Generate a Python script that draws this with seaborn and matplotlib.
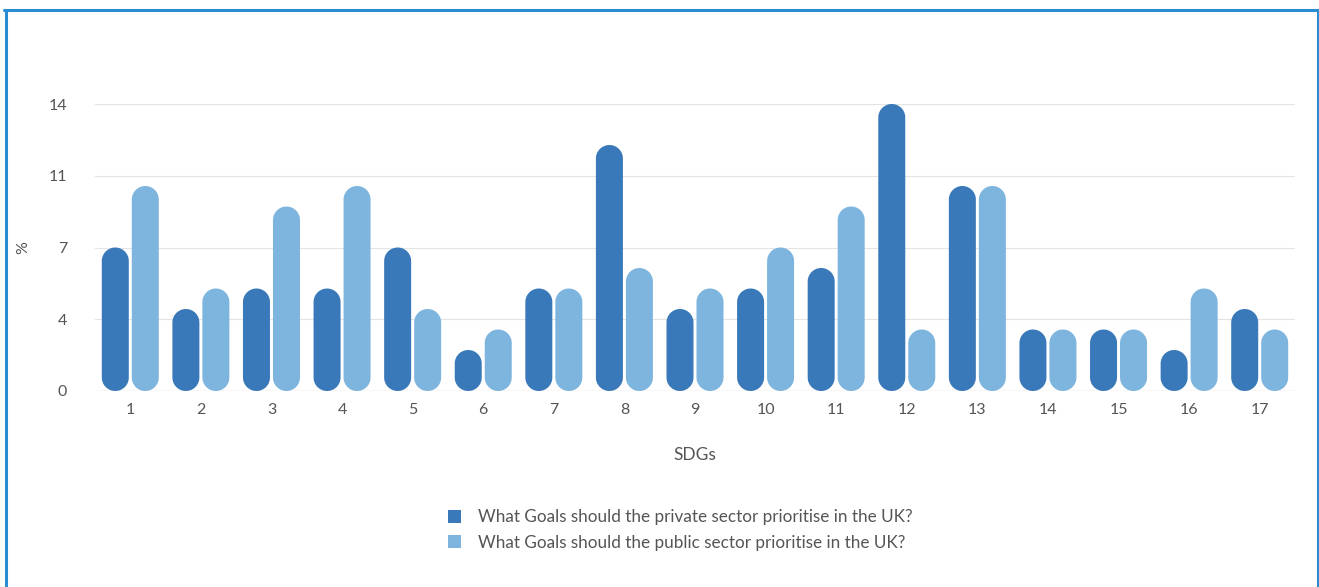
import numpy as np
import pandas as pd
import seaborn as sns
import matplotlib
matplotlib.use("Agg")
import matplotlib.pyplot as plt
from matplotlib.patches import Polygon, Patch
from matplotlib.lines import Line2D

# ---- data ----
sdgs = [str(i) for i in range(1, 18)]
private = [7, 4, 5, 5, 7, 2, 5, 12, 4, 5, 6, 14, 10, 3, 3, 2, 4]
public = [10, 5, 9, 10, 4, 3, 5, 6, 5, 7, 9, 3, 10, 3, 3, 5, 3]
series_names = ["What Goals should the private sector prioritise in the UK?",
                "What Goals should the public sector prioritise in the UK?"]
ytick_vals = [0, 3.5, 7, 10.5, 14]
ytick_labels = ["0", "4", "7", "11", "14"]
colors = ["#3979b9", "#7db5de"]

df = pd.DataFrame({
    "SDG": sdgs * 2,
    "value": private + public,
    "series": [series_names[0]] * len(sdgs) + [series_names[1]] * len(sdgs),
})

sns.set_style("white")
plt.rcParams["font.family"] = ["Lato", "DejaVu Sans"]
text_color = "#555555"

W, H = 1319, 587
fig = plt.figure(figsize=(W / 100, H / 100), dpi=100)
ax_l, ax_r, ax_b, ax_t = 95, 1295, 391, 104
ax = fig.add_axes([ax_l / W, 1 - ax_b / H, (ax_r - ax_l) / W, (ax_b - ax_t) / H])

sns.barplot(data=df, x="SDG", y="value", hue="series", palette=colors,
            width=0.85, gap=0.1, ax=ax, legend=False, saturation=1)

ax.set_xlim(-0.5, 16.5)
ax.set_ylim(0, 14)

# convert bars to rounded pills (shape computed from each bar's own geometry)
xupp = 17.0 / (ax_r - ax_l)
yupp = 14.0 / (ax_b - ax_t)
aspect = yupp / xupp
t_top = np.linspace(0, np.pi, 40)
t_bot = np.linspace(np.pi, 2 * np.pi, 40)
for p in list(ax.patches):
    x, y = p.get_x(), p.get_y()
    w, h = p.get_width(), p.get_height()
    fc = p.get_facecolor()
    p.remove()
    if h <= 0:
        continue
    rx = w / 2
    ry = rx * aspect
    xc = x + rx
    top_c = y + h - ry
    bot_c = y + ry
    verts = np.vstack([
        np.column_stack([xc + rx * np.cos(t_top), top_c + ry * np.sin(t_top)]),
        np.column_stack([xc + rx * np.cos(t_bot), bot_c + ry * np.sin(t_bot)]),
    ])
    ax.add_patch(Polygon(verts, closed=True, facecolor=fc, edgecolor="none",
                         clip_on=False, zorder=3))

ax.set_yticks(ytick_vals, ytick_labels)
ax.grid(axis="y", color="#e4e4e4", linewidth=0.8, zorder=0)
ax.grid(axis="x", visible=False)
for s in ax.spines.values():
    s.set_visible(False)
ax.axhline(0, color="#e9e1d6", linewidth=1.0, zorder=1)
ax.tick_params(axis="both", length=0, labelsize=11.5, labelcolor=text_color)
ax.tick_params(axis="y", pad=20)
ax.tick_params(axis="x", pad=9)

ax.set_xlabel("SDGs", fontsize=12.5, color=text_color)
ax.xaxis.set_label_coords(0.5, (ax_b - 447) / (ax_b - ax_t))
ax.set_ylabel("%", fontsize=11.5, color=text_color)
ax.yaxis.set_label_coords((30 - ax_l) / (ax_r - ax_l), 0.5)

handles = [Patch(facecolor=c, edgecolor="none") for c in colors]
fig.legend(handles, series_names, loc="center",
           bbox_to_anchor=(680 / W, 1 - 530 / H), frameon=False,
           handlelength=0.75, handleheight=0.8, handletextpad=1.0,
           labelspacing=0.55, fontsize=12.3, labelcolor=text_color)

# blue frame
frame_c = "#2a8dd2"
lw = 2.2
fig.add_artist(Line2D([5.5 / W, 5.5 / W], [0, 1 - 9.5 / H], color=frame_c, lw=lw, transform=fig.transFigure))
fig.add_artist(Line2D([1317.5 / W, 1317.5 / W], [0, 1 - 9.5 / H], color=frame_c, lw=lw, transform=fig.transFigure))
fig.add_artist(Line2D([5.5 / W - 0.001, 1317.5 / W + 0.001], [1 - 9.5 / H, 1 - 9.5 / H], color=frame_c, lw=lw, transform=fig.transFigure))

fig.savefig("out.png", dpi=100)
